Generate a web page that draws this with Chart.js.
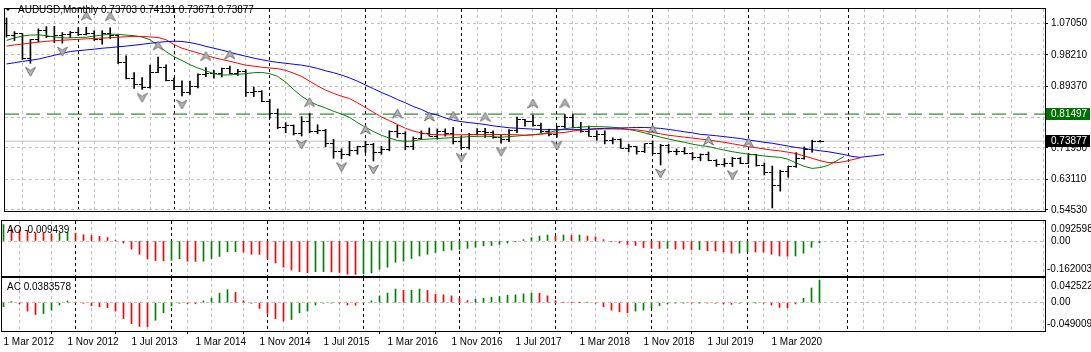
<!DOCTYPE html>
<html>
<head>
<meta charset="utf-8">
<script src="https://cdn.jsdelivr.net/npm/chart.js@4.4.1/dist/chart.umd.min.js"></script>
<style>
html, body { margin: 0; padding: 0; background: #fff; }
#quadro { position: relative; width: 1091px; height: 352px; overflow: hidden; }
canvas { position: absolute; left: 0; }
</style>
</head>
<body>
<div id="quadro">
  <canvas id="graficoPreco" width="1091" height="220" style="top:0"></canvas>
  <canvas id="graficoAO" width="1091" height="58" style="top:219px"></canvas>
  <canvas id="graficoAC" width="1091" height="76" style="top:276px"></canvas>
</div>
<script>
// ---- dados (barras mensais, Mar 2012 .. Sep 2020) ----
const timeLabels = ['1 Mar 2012','1 Nov 2012','1 Jul 2013','1 Mar 2014','1 Nov 2014','1 Jul 2015','1 Mar 2016','1 Nov 2016','1 Jul 2017','1 Mar 2018','1 Nov 2018','1 Jul 2019','1 Mar 2020'];
const priceTicks = [1.0705, 0.9821, 0.8937, 0.8053, 0.7195, 0.6311, 0.5453];
const separatorBars = [10, 22, 34, 46, 58, 70, 82, 94, 107];

const opens = [1.0695,1.0353,1.0411,0.9720,1.0239,1.0513,1.0331,1.0377,1.0379,1.0440,
  1.0383,1.0424,1.0239,1.0412,1.0373,0.9604,0.9145,0.8988,0.8893,0.9330,
  0.9458,0.9102,0.8925,0.8748,0.8928,0.9276,0.9285,0.9300,0.9428,0.9293,
  0.9340,0.8748,0.8800,0.8510,0.8180,0.7773,0.7816,0.7617,0.7927,0.7665,
  0.7700,0.7308,0.7110,0.7018,0.7134,0.7227,0.7282,0.7067,0.7142,0.7665,
  0.7600,0.7231,0.7450,0.7600,0.7510,0.7650,0.7600,0.7390,0.7215,0.7580,
  0.7670,0.7635,0.7485,0.7425,0.7687,0.7992,0.7940,0.7840,0.7655,0.7566,
  0.7805,0.8060,0.7765,0.7672,0.7530,0.7565,0.7400,0.7430,0.7191,0.7227,
  0.7085,0.7308,0.7045,0.7268,0.7095,0.7096,0.7049,0.6936,0.7021,0.6836,
  0.6738,0.6752,0.6890,0.6764,0.7022,0.6688,0.6505,0.6142,0.6519,0.6670,
  0.6903,0.7146,0.73703];
const highs = [1.0857,1.0473,1.0417,1.0250,1.0550,1.0614,1.0624,1.0446,1.0476,1.0583,
  1.0598,1.0498,1.0500,1.0582,1.0380,0.9791,0.9322,0.9180,0.9529,0.9757,
  0.9539,0.9161,0.9086,0.9079,0.9283,0.9461,0.9379,0.9446,0.9505,0.9411,
  0.9400,0.8912,0.8810,0.8565,0.8295,0.7910,0.7846,0.8078,0.8163,0.7849,
  0.7720,0.7440,0.7168,0.7382,0.7245,0.7385,0.7327,0.7242,0.7680,0.7835,
  0.7650,0.7508,0.7677,0.7758,0.7733,0.7735,0.7779,0.7515,0.7607,0.7741,
  0.7749,0.7680,0.7567,0.7712,0.8066,0.8003,0.8125,0.7897,0.7730,0.7814,
  0.8136,0.8135,0.7917,0.7813,0.7677,0.7677,0.7484,0.7453,0.7297,0.7237,
  0.7316,0.7394,0.7296,0.7296,0.7168,0.7206,0.7069,0.7029,0.7082,0.6867,
  0.6895,0.6930,0.6929,0.7032,0.7016,0.6774,0.6686,0.6570,0.6684,0.7064,
  0.7227,0.7414,0.74131];
const lows = [1.0319,1.0222,0.9690,0.9581,1.0182,1.0307,1.0160,1.0149,1.0306,1.0365,
  1.0380,1.0222,1.0117,1.0276,0.9573,0.9138,0.8870,0.8848,0.8879,0.9318,
  0.9081,0.8838,0.8660,0.8703,0.8889,0.9204,0.9161,0.9199,0.9280,0.9237,
  0.8646,0.8641,0.8500,0.8033,0.7737,0.7626,0.7561,0.7533,0.7618,0.7597,
  0.7234,0.6907,0.6896,0.6973,0.7016,0.7066,0.6827,0.7019,0.7115,0.7492,
  0.7145,0.7147,0.7435,0.7530,0.7441,0.7530,0.7308,0.7160,0.7165,0.7562,
  0.7491,0.7470,0.7328,0.7370,0.7625,0.7808,0.7808,0.7625,0.7532,0.7501,
  0.7760,0.7759,0.7644,0.7525,0.7412,0.7310,0.7310,0.7185,0.7085,0.7021,
  0.7063,0.7020,0.6716,0.7055,0.7003,0.7022,0.6865,0.6832,0.6832,0.6677,
  0.6674,0.6670,0.6754,0.6755,0.6683,0.6434,0.5506,0.5980,0.6372,0.6648,
  0.6877,0.7076,0.73671];
const closes = [1.0353,1.0411,0.9720,1.0239,1.0513,1.0331,1.0377,1.0379,1.0440,1.0383,
  1.0424,1.0239,1.0412,1.0373,0.9604,0.9145,0.8988,0.8893,0.9330,0.9458,
  0.9102,0.8925,0.8748,0.8928,0.9276,0.9285,0.9300,0.9428,0.9293,0.9340,
  0.8748,0.8800,0.8510,0.8180,0.7773,0.7816,0.7617,0.7927,0.7665,0.7700,
  0.7308,0.7110,0.7018,0.7134,0.7227,0.7282,0.7067,0.7142,0.7665,0.7600,
  0.7231,0.7450,0.7600,0.7510,0.7650,0.7600,0.7390,0.7215,0.7580,0.7670,
  0.7635,0.7485,0.7425,0.7687,0.7992,0.7940,0.7840,0.7655,0.7566,0.7805,
  0.8060,0.7765,0.7672,0.7530,0.7565,0.7400,0.7430,0.7191,0.7227,0.7085,
  0.7308,0.7045,0.7268,0.7095,0.7096,0.7049,0.6936,0.7021,0.6836,0.6738,
  0.6752,0.6890,0.6764,0.7022,0.6688,0.6505,0.6142,0.6519,0.6670,0.6903,
  0.7146,0.7376,0.73877];

// Alligator (mandíbula azul, dentes vermelhos, lábios verdes), deslocados para o futuro
const jaw = [0.9562,0.9596,0.9634,0.9665,0.9700,0.9753,0.9806,0.9859,0.9912,0.9936,
  0.9957,0.9978,1.0005,1.0023,1.0044,1.0066,1.0089,1.0116,1.0145,1.0169,
  1.0190,1.0203,1.0195,1.0164,1.0118,1.0058,1.0005,0.9952,0.9893,0.9832,
  0.9779,0.9726,0.9681,0.9639,0.9607,0.9581,0.9554,0.9528,0.9488,0.9435,
  0.9369,0.9316,0.9249,0.9170,0.9077,0.8971,0.8865,0.8759,0.8666,0.8560,
  0.8468,0.8362,0.8282,0.8176,0.8123,0.8044,0.7977,0.7938,0.7911,0.7885,
  0.7858,0.7819,0.7792,0.7765,0.7752,0.7739,0.7726,0.7712,0.7712,0.7712,
  0.7712,0.7712,0.7712,0.7726,0.7739,0.7747,0.7752,0.7760,0.7765,0.7771,
  0.7771,0.7763,0.7747,0.7718,0.7686,0.7651,0.7620,0.7580,0.7561,0.7540,
  0.7514,0.7487,0.7461,0.7421,0.7389,0.7355,0.7328,0.7288,0.7249,0.7209,
  0.7182,0.7148,0.7116,0.7090,0.7050,0.7010,0.6957,0.6931,0.6957,0.6983,
  0.7010];
const teeth = [1.0065,1.0097,1.0124,1.0150,1.0177,1.0201,1.0217,1.0230,1.0243,1.0256,
  1.0270,1.0280,1.0291,1.0301,1.0315,1.0328,1.0338,1.0336,1.0322,1.0309,
  1.0243,1.0110,1.0005,0.9938,0.9872,0.9806,0.9739,0.9687,0.9639,0.9581,
  0.9528,0.9501,0.9469,0.9448,0.9430,0.9382,0.9302,0.9210,0.9077,0.8945,
  0.8825,0.8733,0.8653,0.8587,0.8468,0.8335,0.8203,0.8070,0.7964,0.7858,
  0.7752,0.7673,0.7620,0.7580,0.7567,0.7567,0.7567,0.7567,0.7567,0.7572,
  0.7574,0.7574,0.7574,0.7572,0.7567,0.7553,0.7567,0.7585,0.7606,0.7620,
  0.7633,0.7673,0.7699,0.7718,0.7726,0.7731,0.7731,0.7726,0.7718,0.7707,
  0.7673,0.7633,0.7593,0.7553,0.7527,0.7500,0.7474,0.7447,0.7421,0.7386,
  0.7355,0.7315,0.7275,0.7235,0.7201,0.7169,0.7135,0.7111,0.7076,0.7037,
  0.6970,0.6904,0.6838,0.6785,0.6777,0.6811,0.6864,0.6917];
const lips = [1.0224,1.0296,1.0349,1.0375,1.0383,1.0357,1.0322,1.0296,1.0296,1.0309,
  1.0315,1.0349,1.0375,1.0402,1.0394,1.0375,1.0357,1.0322,1.0243,1.0084,
  0.9912,0.9766,0.9660,0.9541,0.9448,0.9369,0.9289,0.9249,0.9255,0.9271,
  0.9289,0.9316,0.9324,0.9289,0.9210,0.9050,0.8839,0.8653,0.8507,0.8401,
  0.8322,0.8229,0.8150,0.8057,0.7911,0.7778,0.7659,0.7553,0.7474,0.7408,
  0.7381,0.7394,0.7434,0.7447,0.7461,0.7474,0.7487,0.7500,0.7514,0.7522,
  0.7527,0.7514,0.7500,0.7514,0.7532,0.7553,0.7567,0.7593,0.7633,0.7686,
  0.7739,0.7765,0.7784,0.7797,0.7797,0.7792,0.7779,0.7752,0.7718,0.7673,
  0.7620,0.7559,0.7500,0.7447,0.7399,0.7355,0.7302,0.7262,0.7235,0.7182,
  0.7135,0.7090,0.7055,0.7023,0.6997,0.6970,0.6949,0.6931,0.6877,0.6771,
  0.6679,0.6620,0.6644,0.6705,0.6824,0.6957];

// fractais (índice da barra)
const upFractals = [10,13,19,25,28,38,45,49,53,56,60,66,70,81,88,93];
const downFractals = [3,7,17,22,37,42,46,57,62,69,82,91,96];

const aoValues = [0.0762,0.0548,0.0519,0.0485,0.0388,0.0354,0.0325,0.0354,0.0403,0.0364,
  0.0291,0.0257,0.0218,0.0160,0.0034,-0.0097,-0.0374,-0.0616,-0.0825,-0.0907,
  -0.0917,-0.0888,-0.0825,-0.0936,-0.0946,-0.0936,-0.0810,-0.0713,-0.0500,-0.0495,
  -0.0509,-0.0616,-0.0621,-0.0825,-0.1019,-0.1213,-0.1344,-0.1422,-0.1470,-0.1422,
  -0.1417,-0.1431,-0.1456,-0.1538,-0.1543,-0.1528,-0.1480,-0.1310,-0.1213,-0.0985,
  -0.0936,-0.0810,-0.0694,-0.0616,-0.0534,-0.0451,-0.0422,-0.0388,-0.0340,-0.0291,
  -0.0228,-0.0209,-0.0160,-0.0097,-0.0015,0.0063,0.0160,0.0228,0.0277,0.0228,
  0.0277,0.0257,0.0277,0.0228,0.0194,0.0063,-0.0034,-0.0097,-0.0160,-0.0209,
  -0.0306,-0.0340,-0.0344,-0.0340,-0.0374,-0.0378,-0.0403,-0.0398,-0.0451,-0.0461,
  -0.0500,-0.0568,-0.0558,-0.0500,-0.0505,-0.0509,-0.0616,-0.0694,-0.0704,-0.0694,
  -0.0568,-0.0291,-0.0094];
const acValues = [-0.0070,0.0018,-0.0023,-0.0147,-0.0205,-0.0188,-0.0129,-0.0041,0.0029,0.0009,
  -0.0012,-0.0053,-0.0070,-0.0088,-0.0147,-0.0276,-0.0364,-0.0411,-0.0414,-0.0305,
  -0.0176,-0.0059,-0.0012,-0.0016,-0.0020,0.0029,0.0076,0.0164,0.0223,0.0176,
  0.0035,-0.0012,-0.0100,-0.0188,-0.0276,-0.0317,-0.0293,-0.0176,-0.0147,-0.0041,
  -0.0009,-0.0005,-0.0010,-0.0041,-0.0045,-0.0008,0.0030,0.0117,0.0164,0.0235,
  0.0211,0.0213,0.0235,0.0211,0.0147,0.0135,0.0117,0.0076,0.0035,0.0059,
  0.0076,0.0094,0.0106,0.0129,0.0135,0.0152,0.0164,0.0160,0.0117,0.0035,
  0.0005,0.0003,0.0002,0.0006,-0.0010,-0.0070,-0.0129,-0.0158,-0.0176,-0.0147,
  -0.0129,-0.0088,-0.0050,-0.0023,-0.0008,-0.0004,-0.0006,-0.0003,-0.0007,-0.0012,
  -0.0023,-0.0030,-0.0012,-0.0005,-0.0003,-0.0010,-0.0041,-0.0083,-0.0088,-0.0023,
  0.0076,0.0252,0.0384];

const levelLine = 0.81497;
const bidPrice = 0.73877;

// ---------------------------------------------------------------
// 8 px por barra; centro das barras em meio pixel para traço de 1px nítido
const X_MIN = -0.1875, X_MAX = X_MIN + 1043 / 8;
const VERDE = '#008000', VERMELHO = '#ff0000';
const FONTE = '"Liberation Sans", Arial, sans-serif';

Chart.defaults.font.family = FONTE;
Chart.defaults.font.size = 10;
Chart.defaults.color = '#000';
Chart.defaults.animation = false;
Chart.defaults.events = [];
Chart.defaults.plugins.legend.display = false;
Chart.defaults.plugins.tooltip.enabled = false;

const temRotulo = v => v % 8 === 0 && v / 8 < timeLabels.length;
const valorTick = c => (c && c.tick) ? c.tick.value : NaN;

function eixoX(comRotulos) {
    return {
        type: 'linear', min: X_MIN, max: X_MAX, offset: false,
        afterBuildTicks: s => {
            const v = [];
            for (let k = 0; k <= 128; k += 4) v.push(k);
            separatorBars.forEach(k => v.push(k));
            s.ticks = v.sort((a, b) => a - b).map(value => ({ value }));
        },
        grid: {
            color: c => separatorBars.includes(valorTick(c)) ? '#000' : '#c0c0c0',
            borderDash: [3, 3],
            drawTicks: comRotulos,
            tickLength: 3,
            tickBorderDash: [],
            tickColor: c => temRotulo(valorTick(c)) ? '#000' : 'rgba(0,0,0,0)'
        },
        border: { display: false, dash: [3, 3] },
        ticks: {
            display: comRotulos, autoSkip: false, maxRotation: 0, minRotation: 0,
            align: 'start', padding: 2,
            callback: v => temRotulo(v) ? timeLabels[v / 8] : ''
        },
        afterFit: s => { s.height = comRotulos ? 21 : 0; }
    };
}

function eixoYSub(min, max) {
    return {
        position: 'right', min: min, max: max,
        afterBuildTicks: s => { s.ticks = [{ value: 0 }]; },
        grid: { color: '#c0c0c0', borderDash: [3, 3], drawTicks: false },
        border: { display: false, dash: [3, 3] },
        ticks: { display: false },
        afterFit: s => { s.width = 46; }
    };
}

const moldura = {
    id: 'moldura',
    afterDraw(ch) {
        const a = ch.chartArea, g = ch.ctx;
        g.save();
        g.strokeStyle = '#000';
        g.lineWidth = 1;
        g.strokeRect(a.left - 0.5, a.top - 0.5, a.right - a.left + 1, a.bottom - a.top + 1);
        g.restore();
    }
};

function rotulosSub(nome, txtMax, txtMin) {
    return {
        id: 'rotulosSub',
        afterDraw(ch) {
            const a = ch.chartArea, g = ch.ctx, y = ch.scales.y;
            g.save();
            g.font = '10px ' + FONTE;
            g.fillStyle = '#000';
            g.textBaseline = 'middle';
            g.fillText(txtMax, a.right + 6, a.top + 8);
            g.fillText('0.00', a.right + 6, y.getPixelForValue(0));
            g.fillText(txtMin, a.right + 2, a.bottom - 7);
            g.fillText(nome, 7, a.top + 9);
            g.restore();
        }
    };
}

// imagens para os fractais e para os traços de abertura/fechamento
function imgSeta(cima) {
    const c = document.createElement('canvas');
    c.width = 11; c.height = 34;
    const g = c.getContext('2d');
    const cx = 5.5, cy = cima ? 17 - 11 : 17 + 8, d = cima ? 1 : -1;
    g.beginPath();
    g.moveTo(cx, cy - 5 * d);
    g.lineTo(cx + 5, cy + 4 * d);
    g.lineTo(cx, cy + 1 * d);
    g.lineTo(cx - 5, cy + 4 * d);
    g.closePath();
    g.fillStyle = '#b4b4b4';
    g.fill();
    g.strokeStyle = '#747474';
    g.lineWidth = 1;
    g.stroke();
    return c;
}
function imgTraco(esquerda) {
    const c = document.createElement('canvas');
    c.width = 7; c.height = 1;
    const g = c.getContext('2d');
    g.fillStyle = '#000';
    g.fillRect(esquerda ? 0 : 4, 0, 3, 1);
    return c;
}
const setaCima = imgSeta(true), setaBaixo = imgSeta(false);
const tracoAbre = imgTraco(true), tracoFecha = imgTraco(false);

const pontos = arr => arr.map((v, i) => ({ x: i, y: v }));

//------- GRÁFICO PRINCIPAL -------------
const tituloPreco = {
    id: 'tituloPreco',
    afterDraw(ch) {
        const g = ch.ctx, a = ch.chartArea, y = ch.scales.y;
        g.save();
        const caixa = (valor, cor) => {
            const py = Math.round(y.getPixelForValue(valor));
            g.fillStyle = cor;
            g.fillRect(a.right + 1, py - 6, 44, 12);
            g.fillStyle = '#fff';
            g.font = '10px ' + FONTE;
            g.textBaseline = 'middle';
            g.fillText(valor.toFixed(5), a.right + 6, py);
        };
        caixa(levelLine, '#007000');
        caixa(bidPrice, '#000');
        g.fillStyle = '#000';
        g.beginPath();
        g.moveTo(5, 8); g.lineTo(11, 8); g.lineTo(8, 11); g.closePath();
        g.fill();
        g.font = '10px ' + FONTE;
        g.textBaseline = 'middle';
        g.fillText('AUDUSD,Monthly', 18, 10);
        g.fillText([opens[102], highs[102], lows[102], closes[102]].map(v => v.toFixed(5)).join(' '), 101, 10);
        g.restore();
    }
};

new Chart(document.getElementById('graficoPreco'), {
    type: 'bar',
    data: {
        datasets: [
            { type: 'line', data: upFractals.map(k => ({ x: k, y: highs[k] })), showLine: false,
              pointStyle: setaCima, pointRadius: 4, order: 0 },
            { type: 'line', data: downFractals.map(k => ({ x: k, y: lows[k] })), showLine: false,
              pointStyle: setaBaixo, pointRadius: 4, order: 0 },
            { type: 'line', data: pontos(jaw), borderColor: '#0000ff', borderWidth: 1, pointRadius: 0, order: 1 },
            { type: 'line', data: pontos(teeth), borderColor: '#ff0000', borderWidth: 1, pointRadius: 0, order: 1 },
            { type: 'line', data: pontos(lips), borderColor: VERDE, borderWidth: 1, pointRadius: 0, order: 1 },
            { type: 'bar', data: lows.map((l, i) => ({ x: i, y: [l, highs[i]] })), backgroundColor: '#000',
              barThickness: 1, borderWidth: 0, order: 2 },
            { type: 'line', data: pontos(opens), showLine: false, pointStyle: tracoAbre, pointRadius: 3, order: 2 },
            { type: 'line', data: pontos(closes), showLine: false, pointStyle: tracoFecha, pointRadius: 3, order: 2 },
            { type: 'line', data: [{ x: X_MIN, y: levelLine }, { x: X_MAX, y: levelLine }], borderColor: '#007000',
              borderWidth: 1, borderDash: [14, 7], pointRadius: 0, order: 3 },
            { type: 'line', data: [{ x: X_MIN, y: bidPrice }, { x: X_MAX, y: bidPrice }], borderColor: '#c0c0c0',
              borderWidth: 1, pointRadius: 0, order: 3 }
        ]
    },
    options: {
        responsive: false,
        layout: { padding: { left: 2, top: 3, right: 0, bottom: 2 } },
        scales: {
            x: eixoX(false),
            y: {
                position: 'right', min: 0.5420, max: 1.1110,
                afterBuildTicks: s => { s.ticks = priceTicks.map(value => ({ value })); },
                grid: { color: '#c0c0c0', borderDash: [3, 3], tickLength: 3, tickColor: '#000', tickBorderDash: [] },
                border: { display: false, dash: [3, 3] },
                ticks: { padding: 3, callback: v => v.toFixed(5) },
                afterFit: s => { s.width = 46; }
            }
        }
    },
    plugins: [moldura, tituloPreco]
});

//------- AWESOME OSCILLATOR ---------
const corHist = arr => arr.map((v, i) => (i === 0 || v > arr[i - 1]) ? VERDE : VERMELHO);

new Chart(document.getElementById('graficoAO'), {
    type: 'bar',
    data: {
        datasets: [{
            data: pontos(aoValues), backgroundColor: corHist(aoValues),
            barThickness: 1, borderWidth: 0
        }]
    },
    options: {
        responsive: false,
        layout: { padding: { left: 2, top: 2, right: 0, bottom: 1 } },
        scales: { x: eixoX(false), y: eixoYSub(-0.162003, 0.092598) }
    },
    plugins: [moldura, rotulosSub('AO -0.009439', '0.092598', '-0.162003')]
});

//------- ACCELERATOR OSCILLATOR ---------
new Chart(document.getElementById('graficoAC'), {
    type: 'bar',
    data: {
        datasets: [{
            data: pontos(acValues), backgroundColor: corHist(acValues),
            barThickness: 1, borderWidth: 0
        }]
    },
    options: {
        responsive: false,
        layout: { padding: { left: 2, top: 2, right: 0, bottom: 0 } },
        scales: { x: eixoX(true), y: eixoYSub(-0.0490093, 0.0425222) }
    },
    plugins: [moldura, rotulosSub('AC 0.0383578', '0.0425222', '-0.0490093')]
});
</script>
</body>
</html>
